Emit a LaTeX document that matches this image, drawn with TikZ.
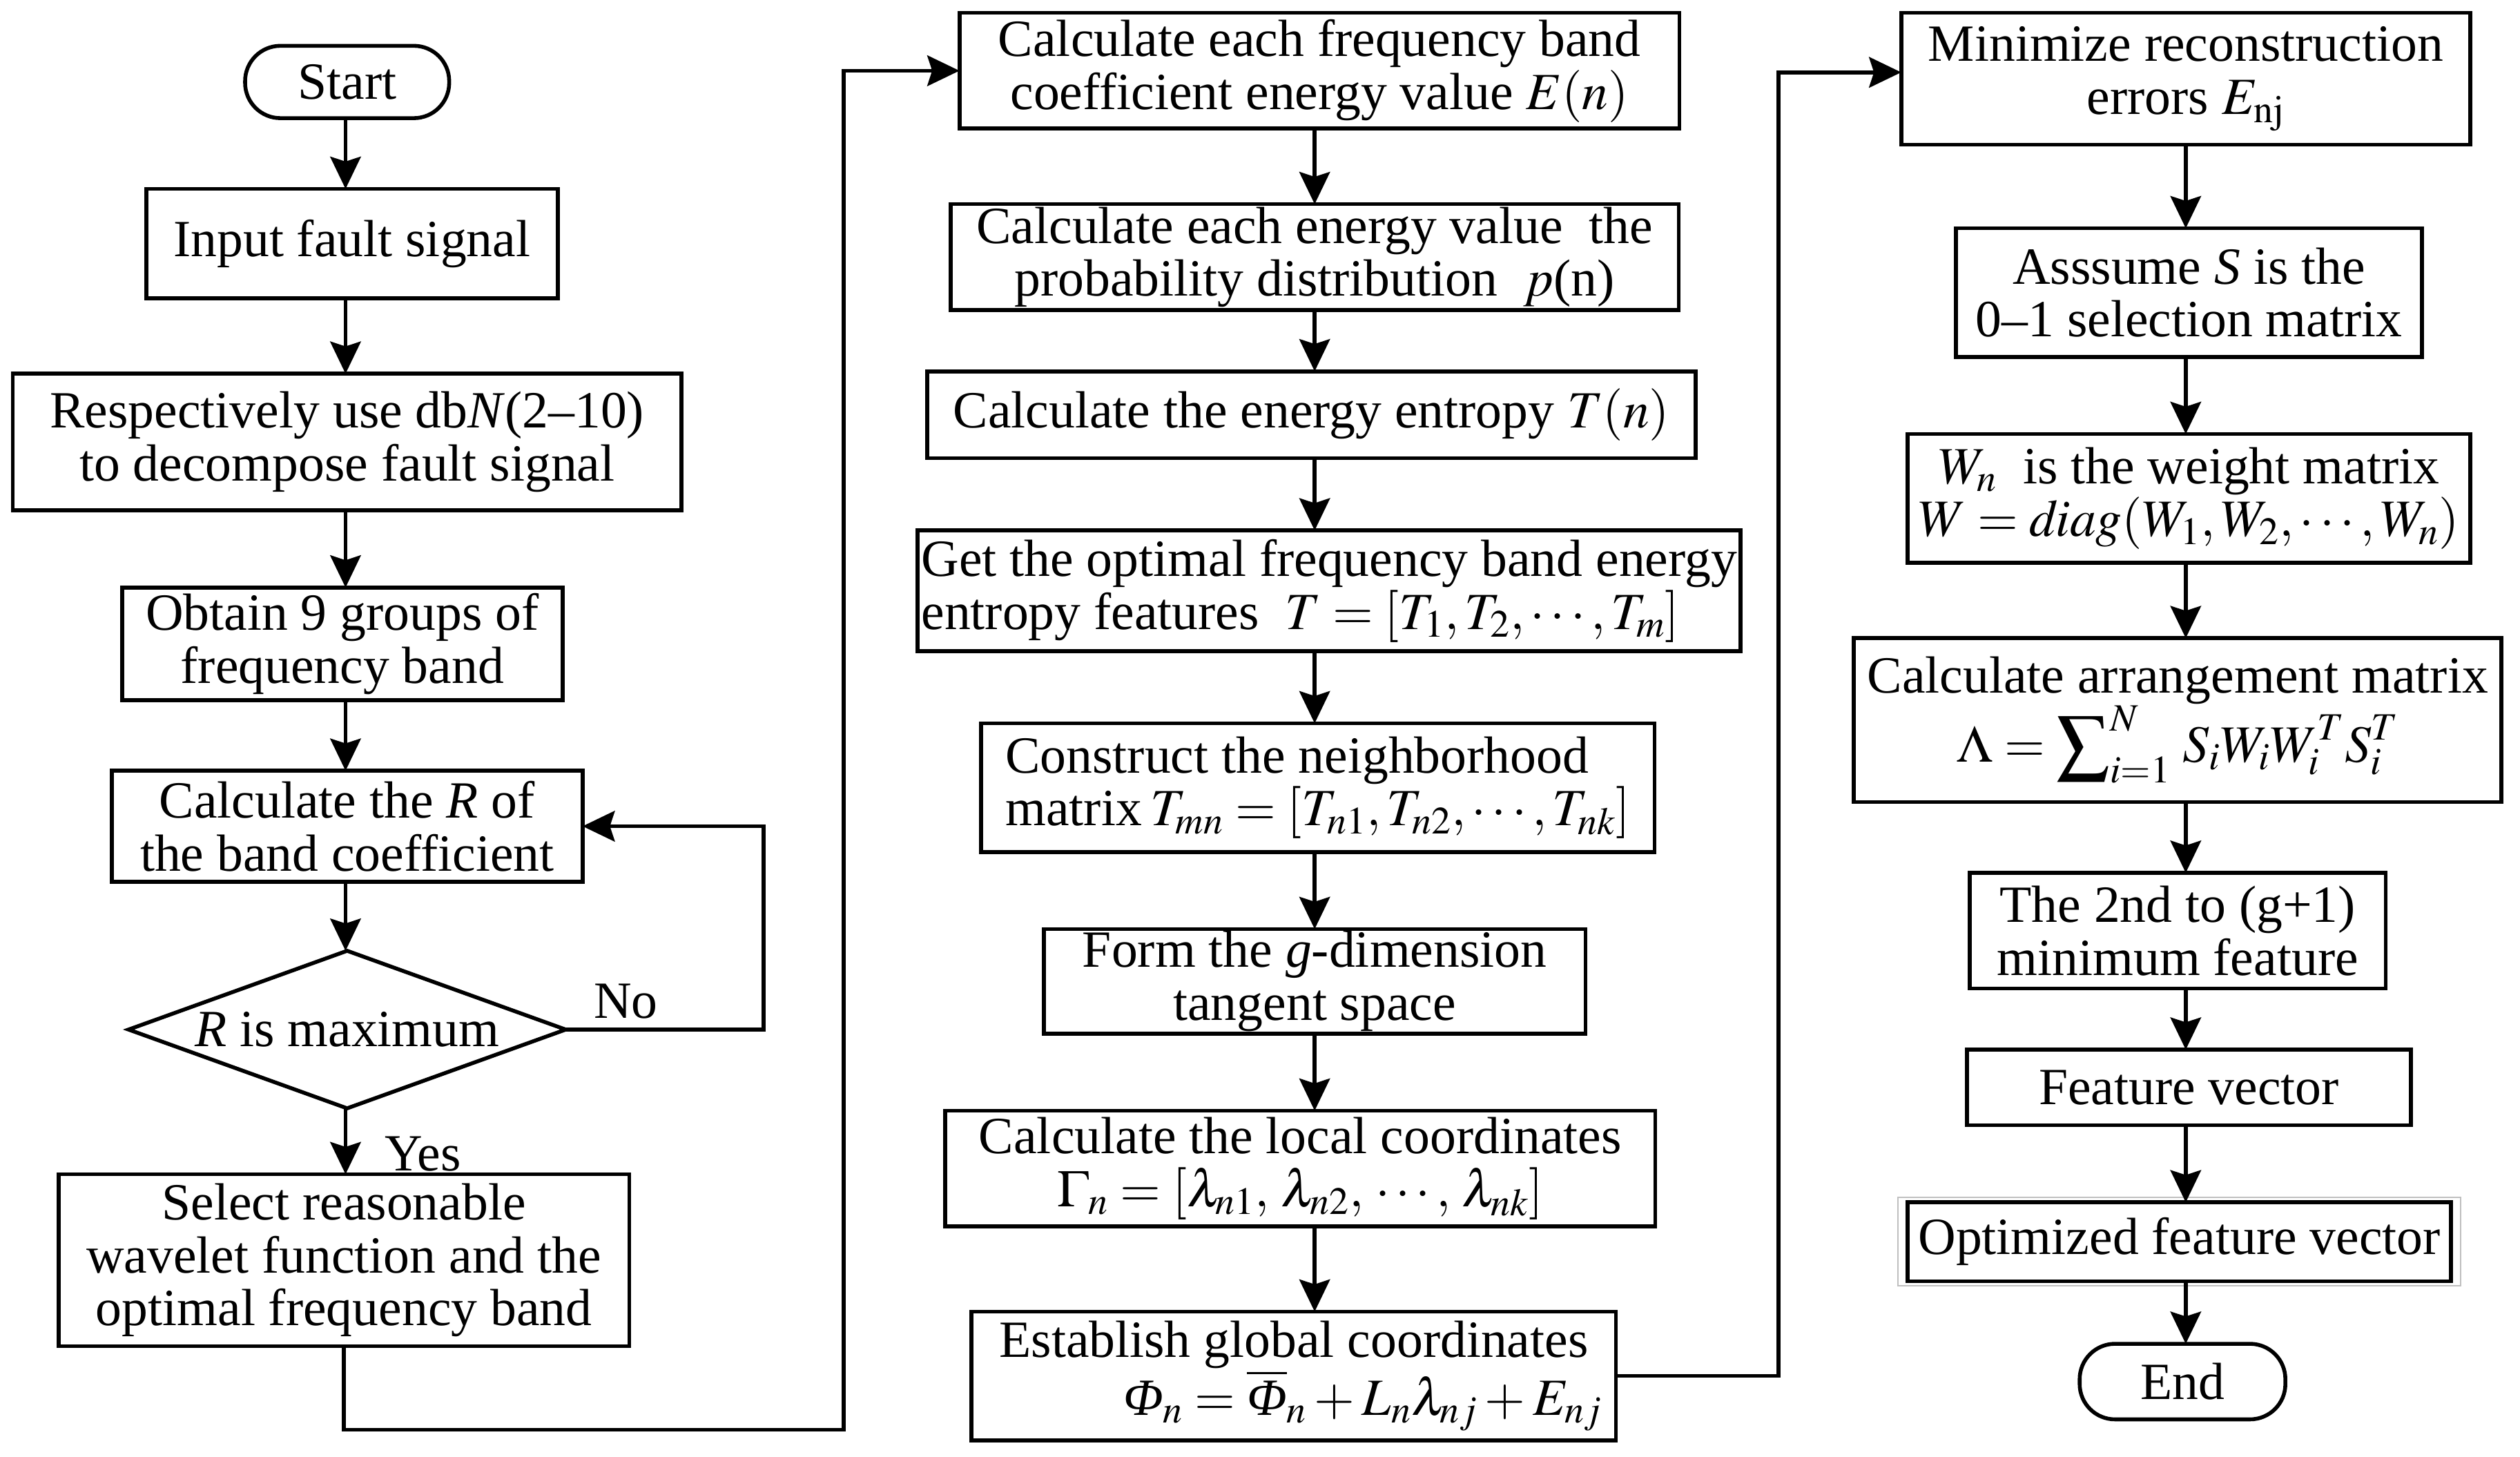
\documentclass[tikz,border=0pt]{standalone}
\usepackage{mathptmx}
\usepackage{fontspec}
\setmainfont{Liberation Serif}
\usetikzlibrary{arrows.meta,positioning,shapes.geometric,fit}
\newcommand{\flowfont}{\fontsize{32.5pt}{33pt}\selectfont}
\newcommand{\Phit}{\mbox{\itshape Φ}}

\begin{document}
\begin{tikzpicture}[x=1pt, y=-1pt, >={Stealth[length=20pt,width=19pt,inset=3pt]},
  node distance=44pt, every node/.style={font=\flowfont},
  box/.style={draw, line width=2.4pt, align=center, inner sep=0pt, outer sep=0pt},
  term/.style={box, rounded corners=22pt},
  dec/.style={box, diamond, aspect=2.78},
  flow/.style={->, line width=2.4pt}]
\useasboundingbox (0,0) rectangle (1568,906);

% left column: wavelet selection
\coordinate (x1) at (215,0);
\node[term, minimum width=127pt, minimum height=45pt] (start) at (216,51) {Start};
\node[box, minimum width=256pt, minimum height=68pt, below=44pt of start, xshift=3pt] (input) {Input fault signal};
\node[box, minimum width=416pt, minimum height=85pt, below=47pt of input, xshift=-3pt] (resp) {Respectively use db\textit{N}(2--10)\\to decompose fault signal};
\node[box, minimum width=274pt, minimum height=70pt, below=48pt of resp, xshift=-3pt] (obtain) {Obtain 9 groups of\\frequency band};
\node[box, minimum width=293pt, minimum height=69pt, below=44pt of obtain, xshift=3pt] (calcR) {Calculate the \textit{R} of\\the band coefficient};
\node[dec, minimum width=272pt, minimum height=98pt, below=43pt of calcR] (dia) {\textit{R} is maximum};
\node[box, minimum width=355pt, minimum height=107pt, below=41pt of dia, xshift=-2pt] (select) {Select reasonable\\wavelet function and the\\optimal frequency band};
\node[anchor=base west, xshift=14pt, yshift=7pt] (no) at (dia.east) {No};
\node[anchor=base west, xshift=20pt, yshift=-39pt] (yes) at (dia.south) {Yes};

% middle column: energy entropy and LTSA
\coordinate (x2) at (818,0);
\node[box, minimum width=448pt, minimum height=72pt] (e) at (821,44) {Calculate each frequency band\\coefficient energy value $E(n)$};
\node[box, minimum width=453pt, minimum height=66pt, below=47pt of e, xshift=-3pt] (p) {Calculate each energy value\ \ the\\probability distribution\ \ $p$(n)};
\node[box, minimum width=478pt, minimum height=54pt, below=38pt of p, xshift=-2pt] (t) {Calculate the energy entropy $T(n)$};
\node[box, align=left, minimum width=512pt, minimum height=75pt, below=45pt of t, xshift=11pt] (get) {Get the optimal frequency band energy\\entropy features\ \ $T=[T_{1},T_{2},\cdots,T_{m}]$};
\node[box, align=left, minimum width=419pt, minimum height=80pt, below=45pt of get, xshift=-7pt] (cons) {Construct the neighborhood\\matrix\,$T_{mn}=[T_{n1},T_{n2},\cdots,T_{nk}]$};
\node[box, minimum width=337pt, minimum height=65pt, below=48pt of cons, xshift=-2pt] (form) {Form the \textit{g}-dimension\\tangent space};
\node[box, minimum width=442pt, minimum height=72pt, below=48pt of form, xshift=-9pt] (local) {Calculate the local coordinates\\$\Gamma_{n}=[\lambda_{n1},\,\lambda_{n2},\,\cdots,\,\lambda_{nk}]$};
\node[box, minimum width=401pt, minimum height=80pt, below=53pt of local, xshift=-4pt] (glob) {Establish global coordinates\\\hspace*{86pt}$\Phit_{n}=\overline{\Phit}_{n}+L_{n}\lambda_{nj}+E_{nj}$};

% right column: alignment and features
\coordinate (x3) at (1360,0);
\node[box, minimum width=354pt, minimum height=82pt] (mini) at (1360,49) {Minimize reconstruction\\errors $E_{\mathrm{nj}}$};
\node[box, minimum width=290pt, minimum height=80pt, below=52pt of mini, xshift=2pt] (assume) {Asssume \textit{S} is the\\0--1 selection matrix};
\node[box, minimum width=350pt, minimum height=80pt, below=48pt of assume] (wn) {$W_{n}$\ \ is the weight matrix\\$W=\mathit{diag}(W_{1},W_{2},\cdots,W_{n})$};
\node[box, minimum width=403pt, minimum height=102pt, below=47pt of wn, xshift=-7pt] (arr) {Calculate arrangement matrix\\$\Lambda=\displaystyle\sum\nolimits_{i=1}^{N}\,S_{i}W_{i}W_{i}^{T}S_{i}^{T}$};
\node[box, minimum width=259pt, minimum height=72pt, below=44pt of arr] (sec) {The 2nd to (g+1)\\minimum feature};
\node[box, minimum width=276pt, minimum height=47pt, below=38pt of sec, xshift=7pt] (fv) {Feature vector};
\node[box, minimum width=338pt, minimum height=49pt, below=48pt of fv, xshift=-6pt] (opt) {Optimized feature vector};
\node[draw=black!25, line width=0.8pt, fit=(opt), inner xsep=6pt, inner ysep=3pt] (optfr) {};
\node[term, minimum width=128pt, minimum height=47pt, below=39pt of opt, xshift=2pt] (end) {End};

% straight arrows
\foreach \a/\b in {start/input, input/resp, resp/obtain, obtain/calcR, calcR/dia, dia/select}
  \draw[flow] (\a.south -| x1) -- (\b.north -| x1);
\foreach \a/\b in {e/p, p/t, t/get, get/cons, cons/form, form/local, local/glob}
  \draw[flow] (\a.south -| x2) -- (\b.north -| x2);
\foreach \a/\b in {mini/assume, assume/wn, wn/arr, arr/sec, sec/fv, fv/opt, opt/end}
  \draw[flow] (\a.south -| x3) -- (\b.north -| x3);

% loop back and column links
\draw[flow] (dia.east) -- ++(123,0) |- (calcR.east);
\draw[flow] (select.south) -- ++(0,52) -- ++(311,0) |- (e.west);
\draw[flow] (glob.east) -- ++(101,0) |- ([yshift=4pt]mini.west);
\end{tikzpicture}
\end{document}
